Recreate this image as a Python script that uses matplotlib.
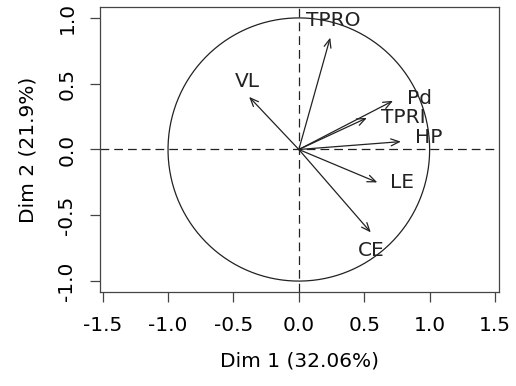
import numpy as np
import matplotlib
matplotlib.use("Agg")
import matplotlib.pyplot as plt

# variable coordinates on the first two dimensions
variables = ["TPRO", "VL", "Pd", "TPRI", "HP", "LE", "CE"]
dim1 = [0.24, -0.38, 0.72, 0.52, 0.78, 0.60, 0.55]
dim2 = [0.85, 0.40, 0.37, 0.24, 0.06, -0.25, -0.63]
# where each label sits
label_x = [0.26, -0.39, 0.92, 0.80, 0.99, 0.79, 0.55]
label_y = [0.98, 0.52, 0.39, 0.24, 0.09, -0.25, -0.77]

ticks = [-1.5, -1.0, -0.5, 0.0, 0.5, 1.0, 1.5]
yticks = [-1.0, -0.5, 0.0, 0.5, 1.0]

plt.rcParams['font.family'] = ['DejaVu Sans']
fs = 14.5
ink = '#222222'

fig = plt.figure(figsize=(5.16, 3.86), dpi=100)
ax = fig.add_axes([0.1938, 0.2435, 0.967 - 0.1938, 0.9819 - 0.2435])

# unit circle
t = np.linspace(0, 2 * np.pi, 400)
ax.plot(np.cos(t), np.sin(t), color=ink, lw=0.9)
ax.axhline(0, color=ink, lw=0.9, ls=(0, (7, 4)))
ax.axvline(0, color=ink, lw=0.9, ls=(0, (7, 4)))

for name, x, y, lx, ly in zip(variables, dim1, dim2, label_x, label_y):
    ax.annotate("", xy=(x, y), xytext=(0, 0),
                arrowprops=dict(arrowstyle="->,head_length=0.6,head_width=0.25",
                                color=ink, lw=0.9, shrinkA=0, shrinkB=0))
    ax.text(lx, ly, name, fontsize=fs, ha='center', va='center', color=ink)

ax.set_xlim(-1.52, 1.53)
ax.set_ylim(-1.083, 1.083)
ax.set_xticks(ticks)
ax.set_xticklabels(["%.1f" % v for v in ticks])
ax.set_yticks(yticks)
ax.set_yticklabels(["%.1f" % v for v in yticks], rotation=90, va='center')
ax.tick_params(labelsize=fs, length=7, width=0.9, color='#444444', pad=10)
for s in ax.spines.values():
    s.set_color('#444444')
    s.set_linewidth(0.9)
ax.set_xlabel("Dim 1 (32.06%)", fontsize=fs, labelpad=12)
ax.set_ylabel("Dim 2 (21.9%)", fontsize=fs, labelpad=14)

fig.savefig("out.png", dpi=100)
